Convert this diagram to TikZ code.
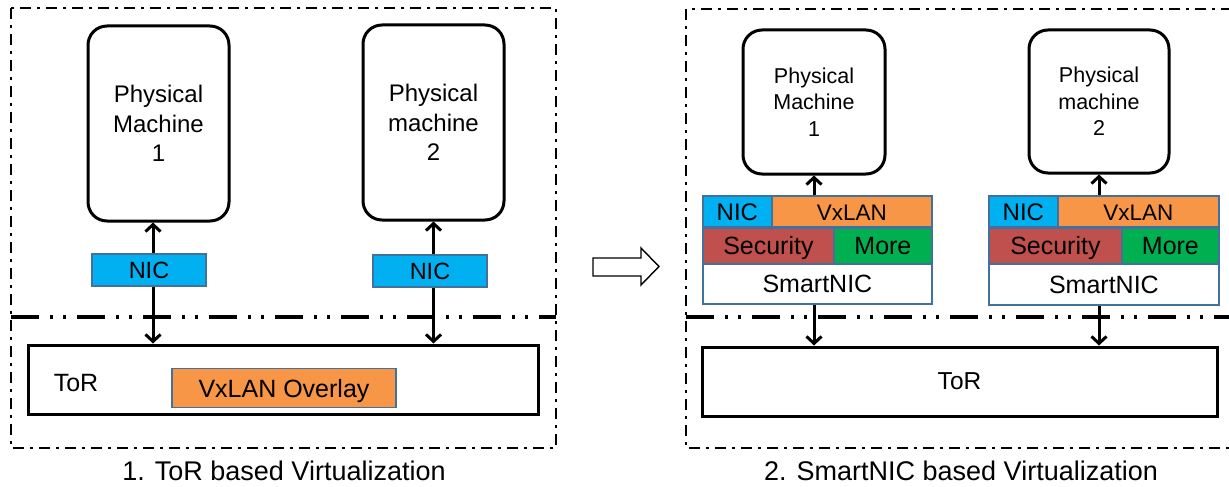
\documentclass[tikz,border=0pt]{standalone}
\usepackage{fontspec}
\setmainfont{Liberation Sans}
\usetikzlibrary{arrows.meta,calc}
\definecolor{nicblue}{HTML}{00B0F0}
\definecolor{vorange}{HTML}{F79646}
\definecolor{secred}{HTML}{C0504D}
\definecolor{moregreen}{HTML}{00B050}
\definecolor{cellborder}{HTML}{41719C}
\tikzset{
  pmbox/.style={draw, line width=3pt, rounded corners=19pt, align=center, inner sep=0pt},
  cell/.style={draw=cellborder, line width=1.8pt, inner sep=0pt, anchor=north west,
    text height=17.5pt, text depth=0pt},
  nicbox/.style={draw=cellborder, fill=nicblue, line width=1.8pt, inner sep=0pt,
    minimum width=114pt, minimum height=32pt, font=\fontsize{23.5}{28}\selectfont,
    text height=17pt, text depth=0pt},
  torbox/.style={draw, line width=3pt, inner sep=0pt},
  arr/.style={-{Straight Barb[length=7pt,width=15pt]}, line width=3pt},
  outerdash/.style={line width=2.8pt, dash pattern=on 11pt off 6pt on 3pt off 6pt},
  middash/.style={line width=4pt, dash pattern=on 28pt off 11pt on 3pt off 10pt on 3pt off 11pt},
  caption/.style={font=\fontsize{27}{32}\selectfont, inner sep=0pt},
}
\begin{document}
\begin{tikzpicture}[x=1pt,y=-1pt]
\useasboundingbox (0,0) rectangle (1229,487);
\fill[white] (0,0) rectangle (1229,487);

% ---------- left panel ----------
\draw[outerdash] (11,8) rectangle (556,448);
\draw[middash] (11,317) -- (556,317);

\node[pmbox, minimum width=141pt, minimum height=195pt, font=\fontsize{24}{29.5}\selectfont]
  (pmA) at (158.5,123.5) {Physical\\Machine\\1};
\node[pmbox, minimum width=141pt, minimum height=195pt, font=\fontsize{24}{29.5}\selectfont]
  (pmC) at (433.5,122.5) {Physical\\machine\\2};

\node[nicbox] (nicA) at (149,270) {NIC};
\node[nicbox] (nicC) at (430,271) {NIC};

\node[torbox, minimum width=510pt, minimum height=69pt] (torA) at (283,379.5) {};
\node[font=\fontsize{25}{30}\selectfont, inner sep=0pt] (torAlabel) at (76,383) {ToR};
\node[draw=cellborder, fill=vorange, line width=1.8pt, inner sep=0pt,
  minimum width=224pt, minimum height=39pt, font=\fontsize{25}{30}\selectfont,
  text height=18pt, text depth=0pt]
  (ovl) at (284,388) {VxLAN Overlay};

\coordinate (axA) at (153,0);
\draw[arr] (axA |- nicA.north) -- (axA |- pmA.south);
\draw[arr] (axA |- nicA.south) -- (axA |- torA.north);
\draw[arr] (pmC.south |- nicC.north) -- (pmC.south);
\draw[arr] (pmC.south |- nicC.south) -- (pmC.south |- torA.north);

\node[caption] (capA) at (284,471) {1. ToR based Virtualization};

% ---------- transition arrow ----------
\draw[line width=1.4pt, fill=white] (593,258) -- (641,258) -- (641,248) -- (659,266.5)
  -- (641,285) -- (641,276) -- (593,276) -- cycle;

% ---------- right panel ----------
\draw[outerdash] (1232,9) -- (686,9) -- (686,448) -- (1232,448);
\draw[middash] (686,317) -- (1232,317);

\node[pmbox, minimum width=142pt, minimum height=144pt, font=\fontsize{21.5}{26.5}\selectfont]
  (pmB) at (814,102) {Physical\\Machine\\1};
\node[pmbox, minimum width=140pt, minimum height=143pt, font=\fontsize{21.5}{26.5}\selectfont]
  (pmD) at (1099,101.5) {Physical\\machine\\2};

% SmartNIC stack 1
\node[cell, fill=nicblue, minimum width=69pt, minimum height=31pt, font=\fontsize{24}{28}\selectfont]
  (nicB) at (702,195) {NIC};
\node[cell, fill=vorange, minimum width=160pt, minimum height=31pt, font=\fontsize{22.5}{28}\selectfont]
  (vxB) at (771,195) {VxLAN};
\node[cell, fill=secred, minimum width=131pt, minimum height=36pt, font=\fontsize{25}{30}\selectfont]
  (secB) at (702,227) {Security};
\node[cell, fill=moregreen, minimum width=98pt, minimum height=36pt, font=\fontsize{25}{30}\selectfont]
  (moreB) at (833,227) {More};
\node[cell, fill=white, minimum width=229pt, minimum height=40pt, font=\fontsize{25}{30}\selectfont]
  (smB) at (702,263) {SmartNIC};

% SmartNIC stack 2
\node[cell, fill=nicblue, minimum width=69pt, minimum height=31pt, font=\fontsize{24}{28}\selectfont]
  (nicD) at (988,195) {NIC};
\node[cell, fill=vorange, minimum width=161pt, minimum height=31pt, font=\fontsize{22.5}{28}\selectfont]
  (vxD) at (1057,195) {VxLAN};
\node[cell, fill=secred, minimum width=133pt, minimum height=36pt, font=\fontsize{25}{30}\selectfont]
  (secD) at (988,227) {Security};
\node[cell, fill=moregreen, minimum width=97pt, minimum height=36pt, font=\fontsize{25}{30}\selectfont]
  (moreD) at (1121,227) {More};
\node[cell, fill=white, minimum width=230pt, minimum height=41pt, font=\fontsize{25}{30}\selectfont]
  (smD) at (988,263) {SmartNIC};

\node[torbox, minimum width=515pt, minimum height=69pt, font=\fontsize{24.5}{30}\selectfont]
  (torB) at (959.5,381.5) {ToR};

\draw[arr] (pmB.south |- nicB.north) -- (pmB.south);
\draw[arr] (pmB.south |- smB.south) -- (pmB.south |- torB.north);
\draw[arr] (pmD.south |- nicD.north) -- (pmD.south);
\draw[arr] (pmD.south |- smD.south) -- (pmD.south |- torB.north);

\node[caption] (capB) at (961,471) {2. SmartNIC based Virtualization};
\end{tikzpicture}
\end{document}
